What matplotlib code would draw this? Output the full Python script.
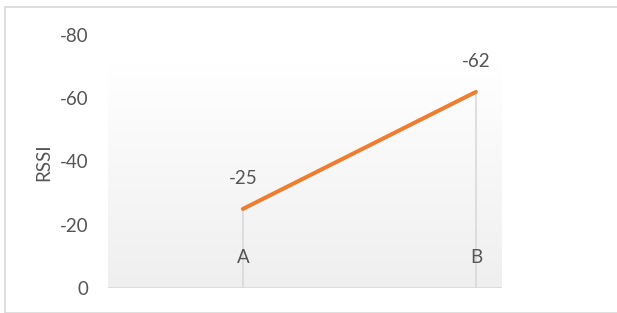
import numpy as np
import matplotlib
matplotlib.use("Agg")
import matplotlib.pyplot as plt
from matplotlib.patches import Rectangle

categories = ["A", "B"]
rssi = [-25, -62]
y_ticks = [0, -20, -40, -60, -80]

text_color = "#555555"
line_color = "#ED7D31"
grid_color = "#d9d9d9"
fs = 13.5

W, H = 617, 313
fig = plt.figure(figsize=(W / 100, H / 100), dpi=100)
plt.rcParams["font.family"] = ["Lato", "DejaVu Sans"]

# outer chart border (only top/left edges fall inside the image)
fig.patches.append(Rectangle((5 / W, 0), 1, 1 - 7 / H, transform=fig.transFigure,
                             fill=False, edgecolor=grid_color, lw=1.2))

ax = fig.add_axes([108 / W, (H - 288) / H, (502 - 108) / W, (288 - 35) / H])
x = np.arange(len(categories))
ax.set_xlim(-0.579, 1.112)
ax.set_ylim(0, -80)

# background gradient
grad = np.linspace(0, 1, 256).reshape(-1, 1)
top_c = np.array([1.0, 1.0, 1.0])
bot_c = np.array([0.937, 0.937, 0.937])
img = top_c + grad * (bot_c - top_c)
ax.imshow(img.reshape(256, 1, 3), extent=(-0.579, 1.112, 0, -71), aspect="auto",
          origin="upper", zorder=0)

for s in ax.spines.values():
    s.set_visible(False)
ax.axhline(0, color=grid_color, lw=1.2, zorder=1)

# drop lines
ax.vlines(x, rssi, 0.6, color=grid_color, lw=1.2, zorder=1)
ax.hlines(0.6, x[0], x[-1], color=grid_color, lw=1.2, zorder=1)

ax.plot(x, rssi, color=line_color, lw=2.9, solid_capstyle="round", zorder=3)

for xi, v in zip(x, rssi):
    ax.annotate(f"{v}", (xi, v), xytext=(0, 22), textcoords="offset points",
                ha="center", va="center", fontsize=fs, color=text_color)
for xi, c in zip(x, categories):
    ax.text(xi, -9.5, c, ha="center", va="center", fontsize=fs, color=text_color)

ax.set_xticks([])
ax.set_yticks(y_ticks)
ax.set_yticklabels([str(t) for t in y_ticks])
ax.tick_params(axis="y", length=0, pad=14, labelsize=fs, labelcolor=text_color)
ax.set_ylabel("RSSI", fontsize=fs, color=text_color)
ax.yaxis.set_label_coords((52 - 108) / (502 - 108), (288 - 162) / (288 - 35))

fig.savefig("out.png", dpi=100)
